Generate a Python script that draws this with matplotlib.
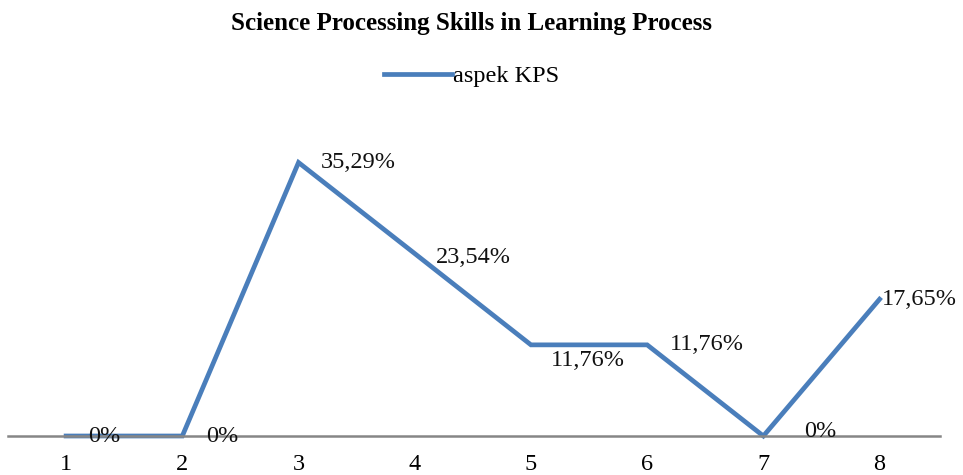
import matplotlib.pyplot as plt

categories = [1, 2, 3, 4, 5, 6, 7, 8]
values = [0, 0, 35.29, 23.54, 11.76, 11.76, 0, 17.65]
labels = ["0%", "0%", "35,29%", "23,54%", "11,76%", "11,76%", "0%", "17,65%"]
# offsets (points) for each data label
offsets = [(16, 0), (17, 0), (16, 0), (15, -3), (14, -11.5), (16, 0), (29, 3), (1.5, 0)]

plt.rcParams['font.family'] = ['Liberation Serif', 'DejaVu Serif']

fig = plt.figure(figsize=(9.63, 4.75), dpi=100)
ax = fig.add_axes([8/963, 39/475, 932/963, 310/475])

line_color = '#4a7ebb'
ax.plot(categories, values, color=line_color, linewidth=3.4, label='aspek KPS',
        solid_joinstyle='miter', clip_on=False)

for x, y, t, (dx, dy) in zip(categories, values, labels, offsets):
    ax.annotate(t, (x, y), xytext=(dx, dy), textcoords='offset points',
                ha='left', va='center', fontsize=17.5, color='#111111')

ax.set_xlim(0.5, 8.52)
ax.set_ylim(0, 40)
ax.set_xticks(categories)
ax.set_xticklabels([str(c) for c in categories], fontsize=17.5)
ax.tick_params(axis='x', length=0, pad=13)
ax.set_yticks([])
for s in ['top', 'right', 'left']:
    ax.spines[s].set_visible(False)
ax.spines['bottom'].set_color('#868686')
ax.spines['bottom'].set_linewidth(1.8)

fig.text(0.49, 0.95, 'Science Processing Skills in Learning Process',
         ha='center', va='center', fontsize=18, fontweight='bold')
fig.legend(loc='center', bbox_to_anchor=(0.49, 0.84), frameon=False,
           fontsize=17.5, handlelength=2.8, handletextpad=0.05)

fig.savefig('out.png', dpi=100)
